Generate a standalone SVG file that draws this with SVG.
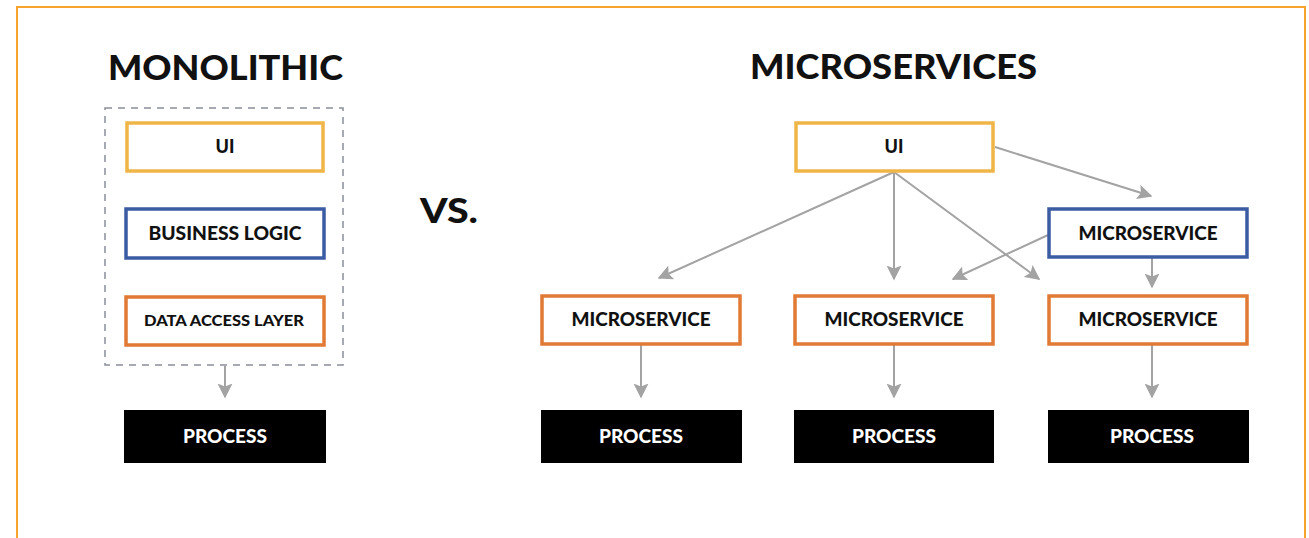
<svg xmlns="http://www.w3.org/2000/svg" width="1309" height="538" viewBox="0 0 1309 538">
<style>
.t{font-family:Lato,"Liberation Sans",sans-serif;font-weight:900;fill:#111;}
.title{font-size:34px;}
.lbl{font-size:18px;text-anchor:middle;}
.ui{fill:#fff;stroke:#EFB547;stroke-width:3.5;}
.bl{fill:#fff;stroke:#3B5BA3;stroke-width:3.5;}
.or{fill:#fff;stroke:#E07A35;stroke-width:3.5;}
.pr{fill:#000;}
.pt{fill:#fff;}
.c{stroke:#A3A3A3;stroke-width:2;fill:none;marker-end:url(#ah);}
</style>
<defs>
<marker id="ah" viewBox="0 0 10 10" refX="9" refY="5" markerWidth="7.5" markerHeight="7.5" markerUnits="strokeWidth" orient="auto">
<path d="M0,0 L10,5 L0,10 L2,5 z" fill="#A3A3A3"/>
</marker>
</defs>
<rect x="0" y="0" width="1309" height="538" fill="#fff"/>
<rect x="17" y="7" width="1288" height="545" fill="none" stroke="#F7A42C" stroke-width="2"/>

<text class="t title" x="108" y="80" textLength="235" lengthAdjust="spacingAndGlyphs">MONOLITHIC</text>
<text class="t title" x="750" y="79" textLength="287" lengthAdjust="spacingAndGlyphs">MICROSERVICES</text>
<text class="t title" x="420" y="223" textLength="58" lengthAdjust="spacingAndGlyphs">VS.</text>

<g id="mono-box">
<rect x="105" y="108" width="238" height="257" fill="none" stroke="#8A8F99" stroke-width="1.5" stroke-dasharray="7,6"/>
</g>

<g id="connectors">
<line class="c" x1="225" y1="366" x2="225" y2="397"/>
<line class="c" x1="894" y1="172" x2="659" y2="278"/>
<line class="c" x1="894" y1="172" x2="894" y2="279"/>
<line class="c" x1="894" y1="172" x2="1039" y2="279"/>
<line class="c" x1="995" y1="147" x2="1151" y2="196"/>
<line class="c" x1="1048" y1="235" x2="953" y2="279"/>
<line class="c" x1="1152" y1="258" x2="1152" y2="287"/>
<line class="c" x1="641" y1="345" x2="641" y2="397"/>
<line class="c" x1="894" y1="345" x2="894" y2="397"/>
<line class="c" x1="1152" y1="345" x2="1152" y2="397"/>
</g>

<g id="m-ui"><rect class="ui" x="127" y="123" width="196" height="48"/><text class="t lbl" x="225" y="153">UI</text></g>
<g id="m-bl"><rect class="bl" x="126" y="209" width="198" height="49"/><text class="t lbl" x="225" y="240" textLength="153" lengthAdjust="spacingAndGlyphs">BUSINESS LOGIC</text></g>
<g id="m-dal"><rect class="or" x="126" y="297" width="198" height="48"/><text class="t lbl" x="224" y="326" style="font-size:15px" textLength="160" lengthAdjust="spacingAndGlyphs">DATA ACCESS LAYER</text></g>
<g id="m-proc"><rect class="pr" x="124" y="410" width="202" height="53"/><text class="t lbl pt" x="225" y="443" textLength="84" lengthAdjust="spacingAndGlyphs">PROCESS</text></g>

<g id="s-ui"><rect class="ui" x="796" y="123" width="197" height="48"/><text class="t lbl" x="894" y="153">UI</text></g>
<g id="s-ms-top"><rect class="bl" x="1049" y="209" width="198" height="48"/><text class="t lbl" x="1148" y="240" textLength="139" lengthAdjust="spacingAndGlyphs">MICROSERVICE</text></g>
<g id="s-ms1"><rect class="or" x="542" y="296" width="198" height="48"/><text class="t lbl" x="641" y="326" textLength="139" lengthAdjust="spacingAndGlyphs">MICROSERVICE</text></g>
<g id="s-ms2"><rect class="or" x="795" y="296" width="198" height="48"/><text class="t lbl" x="894" y="326" textLength="139" lengthAdjust="spacingAndGlyphs">MICROSERVICE</text></g>
<g id="s-ms3"><rect class="or" x="1049" y="296" width="198" height="48"/><text class="t lbl" x="1148" y="326" textLength="139" lengthAdjust="spacingAndGlyphs">MICROSERVICE</text></g>
<g id="s-p1"><rect class="pr" x="541" y="410" width="201" height="53"/><text class="t lbl pt" x="641" y="443" textLength="84" lengthAdjust="spacingAndGlyphs">PROCESS</text></g>
<g id="s-p2"><rect class="pr" x="794" y="410" width="200" height="53"/><text class="t lbl pt" x="894" y="443" textLength="84" lengthAdjust="spacingAndGlyphs">PROCESS</text></g>
<g id="s-p3"><rect class="pr" x="1048" y="410" width="201" height="53"/><text class="t lbl pt" x="1152" y="443" textLength="84" lengthAdjust="spacingAndGlyphs">PROCESS</text></g>
</svg>
